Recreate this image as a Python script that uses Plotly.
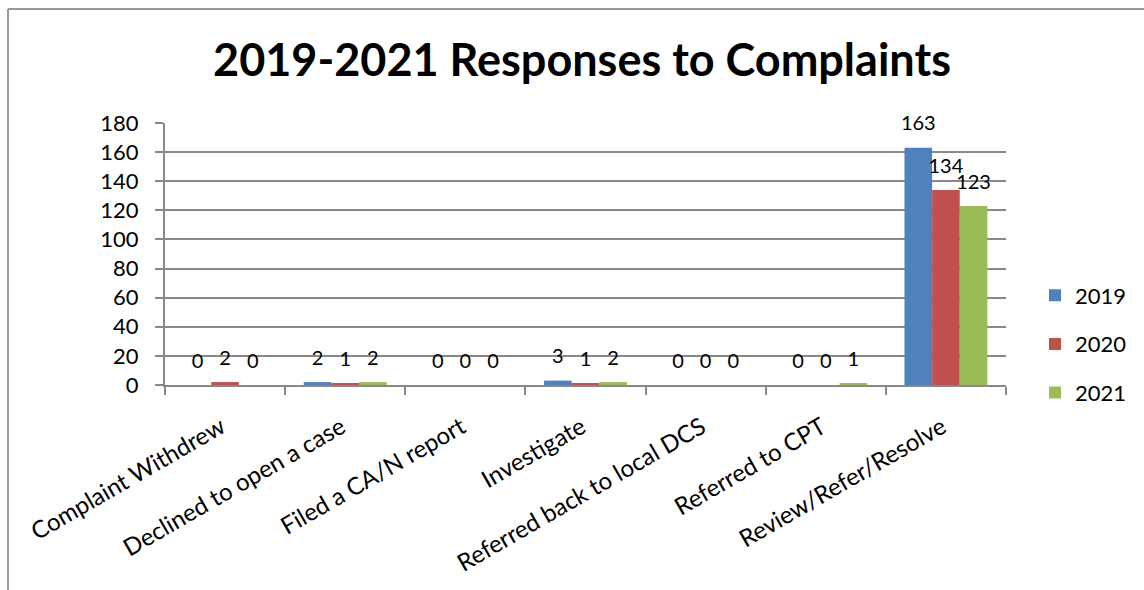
import plotly.graph_objects as go

categories = ["Complaint Withdrew", "Declined to open a case", "Filed a CA/N report",
              "Investigate", "Referred back to local DCS", "Referred to CPT",
              "Review/Refer/Resolve"]
values_2019 = [0, 2, 0, 3, 0, 0, 163]
values_2020 = [2, 1, 0, 1, 0, 0, 134]
values_2021 = [0, 2, 0, 2, 0, 1, 123]
series_names = ["2019", "2020", "2021"]
series_colors = ["#4F81BD", "#C0504D", "#9BBB59"]
y_ticks = [0, 20, 40, 60, 80, 100, 120, 140, 160, 180]

FONT = "Lato, Carlito, 'Liberation Sans', sans-serif"

fig = go.Figure()
all_vals = [values_2019, values_2020, values_2021]
for name, vals, col in zip(series_names, all_vals, series_colors):
    fig.add_trace(go.Bar(
        x=categories, y=vals, name=name, legendgroup=name,
        marker=dict(color=col, line=dict(width=0)),
        offsetgroup=name,
    ))
for name, vals, col in zip(series_names, all_vals, series_colors):
    fig.add_trace(go.Scatter(
        x=categories, y=vals, name=name, legendgroup=name, showlegend=False,
        mode="markers+text", offsetgroup=name,
        marker=dict(size=18, opacity=0),
        text=[str(v) for v in vals], textposition="top center",
        textfont=dict(size=20, color="black", family=FONT),
        cliponaxis=False, hoverinfo="skip",
    ))

W, H = 1144, 590
L, R, T, B = 165, 1144 - 1006, 123, 590 - 385
pw, ph = W - L - R, H - T - B

def px(x):
    return (x - L) / pw

def py(y):
    return (H - B - y) / ph

fig.update_layout(
    width=W, height=H,
    margin=dict(l=L, r=R, t=T, b=B, autoexpand=False),
    paper_bgcolor="white", plot_bgcolor="white",
    font=dict(family=FONT, color="black"),
    title=dict(text="<b>2019-2021 Responses to Complaints</b>",
               font=dict(size=45, family=FONT, color="black"),
               x=582 / W, xref="container", xanchor="center",
               y=1 - 60 / H, yref="container", yanchor="middle"),
    barmode="group", bargap=0.31, bargroupgap=0,
    scattermode="group", scattergap=0.31,
    showlegend=True,
    legend=dict(x=px(1035), y=py(344), xanchor="left", yanchor="middle",
                font=dict(size=22, family=FONT, color="black"),
                traceorder="grouped", tracegroupgap=17,
                bgcolor="rgba(0,0,0,0)", itemwidth=30),
    xaxis=dict(type="category", tickson="boundaries", ticks="outside", ticklen=8,
               tickcolor="#888888", tickwidth=2, tickangle=-30,
               ticklabelshift=-4, ticklabelstandoff=17,
               showline=True, linecolor="#888888", linewidth=2,
               tickfont=dict(size=24, family=FONT, color="black"),
               showgrid=False),
    yaxis=dict(range=[0, 180], tickvals=y_ticks, ticks="outside", ticklen=8,
               tickcolor="#888888", tickwidth=2, ticklabelstandoff=12,
               showline=True, linecolor="#888888", linewidth=2,
               showgrid=True, gridcolor="#888888", gridwidth=2,
               zeroline=False,
               tickfont=dict(size=22, family=FONT, color="black")),
    shapes=[
        dict(type="line", xref="paper", yref="paper",
             x0=px(8), x1=px(8), y0=py(9), y1=py(595),
             line=dict(color="#999999", width=2)),
        dict(type="line", xref="paper", yref="paper",
             x0=px(8), x1=px(1150), y0=py(9), y1=py(9),
             line=dict(color="#999999", width=2)),
    ],
)

fig.write_html("out.html", config={"displayModeBar": False},
               post_script="document.body.style.margin='0';")
